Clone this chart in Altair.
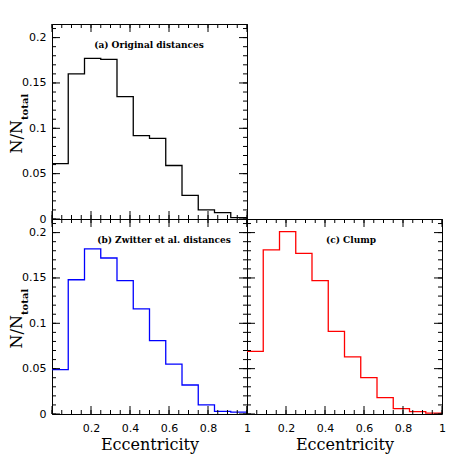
import altair as alt
import pandas as pd

# ---- data ----
edges = [0.0, 0.0833, 0.1667, 0.25, 0.3333, 0.4167, 0.5, 0.5833, 0.6667, 0.75, 0.8333, 0.9167, 1.0]
vals_a = [0.061, 0.160, 0.177, 0.176, 0.135, 0.092, 0.089, 0.059, 0.026, 0.010, 0.007, 0.0015]
vals_b = [0.049, 0.148, 0.182, 0.172, 0.147, 0.116, 0.081, 0.055, 0.032, 0.010, 0.003, 0.002]
vals_c = [0.069, 0.181, 0.201, 0.177, 0.147, 0.091, 0.063, 0.040, 0.018, 0.006, 0.0026, 0.001]

labels = ["(a) Original distances", "(b) Zwitter et al. distances", "(c) Clump"]
x_label_values = [0.2, 0.4, 0.6, 0.8, 1.0]
y_label_values = [0, 0.05, 0.1, 0.15, 0.2]
x_minor = [0, 0.05, 0.1, 0.15, 0.2, 0.25, 0.3, 0.35, 0.4, 0.45, 0.5,
           0.55, 0.6, 0.65, 0.7, 0.75, 0.8, 0.85, 0.9, 0.95, 1.0]
x_major = [0, 0.2, 0.4, 0.6, 0.8, 1.0]
y_minor = [0, 0.01, 0.02, 0.03, 0.04, 0.05, 0.06, 0.07, 0.08, 0.09, 0.1,
           0.11, 0.12, 0.13, 0.14, 0.15, 0.16, 0.17, 0.18, 0.19, 0.2, 0.21]
y_major = [0, 0.05, 0.1, 0.15, 0.2]

W = H = 195
YMAX = 0.215
MAJ, MIN = 8, 4

xs = alt.Scale(domain=[0, 1], nice=False, zero=False)
ys = alt.Scale(domain=[0, YMAX], nice=False, zero=False)


def make_panel(vals, color, label, label_x, ylab, xlab):
    if xlab:
        xaxis = alt.Axis(values=x_label_values, format="~g", ticks=False, tickSize=0,
                         domain=False, grid=False, labelFont="DejaVu Sans", labelFontSize=11,
                         labelColor="black", labelPadding=8, labelFlush=False,
                         title="Eccentricity", titleFont="DejaVu Serif", titleFontSize=16,
                         titleFontWeight="normal", titleColor="black", titlePadding=3)
    else:
        xaxis = None
    if ylab:
        yaxis = alt.Axis(values=y_label_values, format="~g", ticks=False, tickSize=0,
                         domain=False, grid=False, labelFont="DejaVu Sans", labelFontSize=11,
                         labelColor="black", labelPadding=6, labelFlush=False, title=None)
    else:
        yaxis = None
    X = alt.X("x:Q", scale=xs, axis=xaxis)
    Y = alt.Y("y:Q", scale=ys, axis=yaxis)

    line = alt.Chart(pd.DataFrame({"x": edges, "y": vals + [vals[-1]]})).mark_line(
        interpolate="step-after", color=color, strokeWidth=1.3
    ).encode(x=X, y=Y)
    layers = [line]

    for tv, L in ((x_minor, MIN), (x_major, MAJ)):
        d = alt.Chart(pd.DataFrame({"x": tv}))
        layers.append(d.mark_rule(color="black", strokeWidth=1).encode(
            x=X, y=alt.value(H), y2=alt.value(H - L)))
        layers.append(d.mark_rule(color="black", strokeWidth=1).encode(
            x=X, y=alt.value(0), y2=alt.value(L)))
    for tv, L in ((y_minor, MIN), (y_major, MAJ)):
        d = alt.Chart(pd.DataFrame({"y": tv}))
        layers.append(d.mark_rule(color="black", strokeWidth=1).encode(
            y=Y, x=alt.value(0), x2=alt.value(L)))
        layers.append(d.mark_rule(color="black", strokeWidth=1).encode(
            y=Y, x=alt.value(W), x2=alt.value(W - L)))

    layers.append(alt.Chart(pd.DataFrame({"t": [label]})).mark_text(
        font="DejaVu Serif", fontSize=9, fontWeight="bold", color="black",
        align="center", baseline="middle"
    ).encode(x=alt.value(label_x), y=alt.value(21), text="t:N"))

    if ylab:
        layers.append(alt.Chart(pd.DataFrame({"t": ["N/N"]})).mark_text(
            font="DejaVu Serif", fontSize=16, angle=270, align="right",
            baseline="middle", color="black"
        ).encode(x=alt.value(-35), y=alt.value(96), text="t:N"))
        layers.append(alt.Chart(pd.DataFrame({"t": ["total"]})).mark_text(
            font="DejaVu Serif", fontSize=10, fontWeight="bold", angle=270, align="left",
            baseline="middle", color="black"
        ).encode(x=alt.value(-27), y=alt.value(96), text="t:N"))

    return alt.layer(*layers).properties(width=W, height=H)


pa = make_panel(vals_a, "black", labels[0], 97, True, False)
pb = make_panel(vals_b, "#0000ff", labels[1], 112, True, True)
pc = make_panel(vals_c, "#ff0000", labels[2], 104, False, True)

chart = alt.vconcat(
    pa,
    alt.hconcat(pb, pc, spacing=0, bounds="flush"),
    spacing=0, bounds="flush",
).properties(
    padding={"left": 0, "top": 15, "right": 5, "bottom": 5}
).configure_view(stroke="black", strokeWidth=1)

chart.save("out.html", embed_options={"renderer": "svg", "actions": False})
